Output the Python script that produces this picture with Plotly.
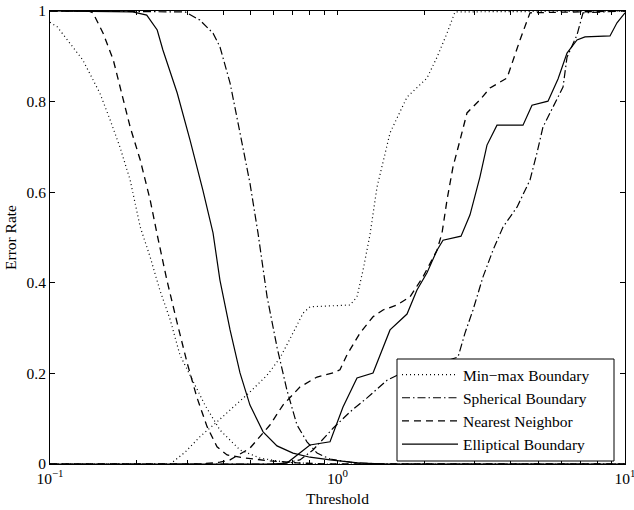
import plotly.graph_objects as go

# Threshold values (log axis) and error rates for each classifier boundary.
# Each method has a falling curve (false rejection) and a rising curve (false acceptance).

minmax_rej_x = [0.1, 0.106, 0.130, 0.149, 0.162, 0.175, 0.190, 0.206, 0.223, 0.241, 0.262,
                0.283, 0.307, 0.346, 0.390, 0.458, 0.538, 0.657, 0.869, 10.0]
minmax_rej_y = [0.975, 0.965, 0.892, 0.819, 0.759, 0.700, 0.627, 0.523, 0.457, 0.384, 0.318,
                0.241, 0.196, 0.130, 0.075, 0.031, 0.013, 0.004, 0.0, 0.0]
minmax_acc_x = [0.1, 0.262, 0.295, 0.332, 0.381, 0.433, 0.496, 0.569, 0.631, 0.700, 0.759,
                0.802, 0.942, 1.105, 1.169, 1.227, 1.297, 1.372, 1.523, 1.745, 2.048,
                2.219, 2.404, 2.563, 10.0]
minmax_acc_y = [0.0, 0.0, 0.026, 0.060, 0.093, 0.124, 0.159, 0.196, 0.234, 0.289, 0.333,
                0.347, 0.349, 0.351, 0.369, 0.428, 0.506, 0.611, 0.731, 0.810, 0.852,
                0.898, 0.951, 0.998, 1.0]

sph_rej_x = [0.1, 0.295, 0.332, 0.369, 0.390, 0.423, 0.458, 0.496, 0.529, 0.569, 0.616,
             0.667, 0.723, 0.783, 0.849, 0.942, 1.105, 1.406, 10.0]
sph_rej_y = [1.0, 0.998, 0.980, 0.951, 0.921, 0.841, 0.731, 0.620, 0.510, 0.369, 0.258,
             0.163, 0.086, 0.049, 0.024, 0.011, 0.004, 0.0, 0.0]
sph_acc_x = [0.1, 0.631, 0.740, 0.822, 0.965, 1.105, 1.267, 1.487, 1.650, 2.098, 2.625,
             2.776, 2.960, 3.207, 3.474, 3.764, 4.211, 4.673, 4.942, 5.185, 5.618,
             6.087, 6.285, 6.808, 7.144, 10.0]
sph_acc_y = [0.0, 0.0, 0.009, 0.031, 0.079, 0.115, 0.146, 0.185, 0.199, 0.216, 0.236,
             0.289, 0.340, 0.413, 0.472, 0.523, 0.567, 0.627, 0.687, 0.744, 0.788,
             0.832, 0.898, 0.947, 0.996, 1.0]

nn_rej_x = [0.1, 0.136, 0.141, 0.153, 0.166, 0.175, 0.190, 0.206, 0.223, 0.236, 0.255,
            0.277, 0.300, 0.324, 0.352, 0.381, 0.413, 0.477, 0.582, 0.740, 0.942, 10.0]
nn_rej_y = [1.0, 1.0, 0.996, 0.951, 0.892, 0.832, 0.744, 0.671, 0.583, 0.506, 0.406,
            0.311, 0.223, 0.148, 0.082, 0.038, 0.020, 0.013, 0.007, 0.002, 0.0, 0.0]
nn_acc_x = [0.1, 0.332, 0.390, 0.423, 0.496, 0.582, 0.646, 0.740, 0.849, 0.965, 1.020,
            1.079, 1.197, 1.329, 1.440, 1.611, 1.787, 1.983, 2.219, 2.310, 2.404,
            2.522, 2.668, 2.821, 3.130, 3.392, 3.887, 4.078, 4.313, 4.673, 10.0]
nn_acc_y = [0.0, 0.0, 0.004, 0.009, 0.035, 0.086, 0.130, 0.170, 0.192, 0.201, 0.208,
            0.241, 0.289, 0.325, 0.340, 0.351, 0.369, 0.413, 0.472, 0.510, 0.583,
            0.656, 0.715, 0.775, 0.804, 0.830, 0.852, 0.892, 0.936, 0.996, 1.0]

ell_rej_x = [0.1, 0.194, 0.217, 0.236, 0.247, 0.277, 0.307, 0.340, 0.369, 0.390, 0.423,
             0.458, 0.496, 0.551, 0.616, 0.700, 0.802, 0.942, 1.197, 1.523, 10.0]
ell_rej_y = [1.0, 0.998, 0.991, 0.958, 0.914, 0.819, 0.715, 0.605, 0.510, 0.406, 0.296,
             0.201, 0.130, 0.071, 0.040, 0.024, 0.015, 0.009, 0.002, 0.0, 0.0]
ell_acc_x = [0.1, 0.582, 0.667, 0.723, 0.802, 0.942, 1.045, 1.169, 1.329, 1.523, 1.745,
             1.890, 2.048, 2.219, 2.328, 2.689, 2.890, 3.130, 3.311, 3.587, 4.418,
             4.748, 5.397, 5.848, 6.285, 6.808, 7.259, 8.867, 9.379, 10.0]
ell_acc_y = [0.0, 0.0, 0.002, 0.020, 0.042, 0.049, 0.126, 0.190, 0.201, 0.296, 0.331,
             0.384, 0.422, 0.472, 0.494, 0.503, 0.550, 0.634, 0.704, 0.748, 0.748,
             0.792, 0.801, 0.850, 0.907, 0.936, 0.943, 0.945, 0.974, 0.996]

series_names = ["Min\u2212max Boundary", "Spherical Boundary", "Nearest Neighbor", "Elliptical Boundary"]

# decade labels on the log axis, with unlabeled ticks at the in-between multiples
x_ticks = [0.1, 0.2, 0.3, 0.4, 0.5, 0.6, 0.7, 0.8, 0.9,
           1, 2, 3, 4, 5, 6, 7, 8, 9, 10]
x_tick_text = ["10<sup>\u22121</sup>", "", "", "", "", "", "", "", "",
               "10<sup>0</sup>", "", "", "", "", "", "", "", "",
               "10<sup>1</sup>"]
y_ticks = [0, 0.2, 0.4, 0.6, 0.8, 1]
y_tick_text = ["0", "0.2", "0.4", "0.6", "0.8", "1"]

curves = [
    (minmax_rej_x, minmax_rej_y, minmax_acc_x, minmax_acc_y, "1px,3px", 1.2),
    (sph_rej_x, sph_rej_y, sph_acc_x, sph_acc_y, "8px,3px,1.5px,3px", 1.2),
    (nn_rej_x, nn_rej_y, nn_acc_x, nn_acc_y, "7px,5px", 1.3),
    (ell_rej_x, ell_rej_y, ell_acc_x, ell_acc_y, "solid", 1.2),
]

fig = go.Figure()
for name, (rx, ry, ax, ay, dash, w) in zip(series_names, curves):
    fig.add_trace(go.Scatter(
        x=list(rx) + [None] + list(ax),
        y=list(ry) + [None] + list(ay),
        mode="lines", name=name,
        line=dict(color="black", width=w, dash=dash),
        connectgaps=False,
    ))

font_family = "Liberation Serif, Times New Roman, serif"

# plot area in pixels: left 50, right 625, top 11, bottom 464
PL, PR, PT, PB = 50, 625, 11, 464
def px_x(p):
    return (p - PL) / (PR - PL)
def px_y(p):
    return (PB - p) / (PB - PT)

# opaque framed panel behind the legend entries
fig.add_shape(
    type="rect", xref="paper", yref="paper",
    x0=px_x(397), x1=px_x(614), y0=px_y(461), y1=px_y(359),
    line=dict(color="black", width=1), fillcolor="white", layer="above",
)

fig.update_layout(
    width=634, height=510,
    margin=dict(l=PL, r=634 - PR, t=PT, b=510 - PB),
    paper_bgcolor="white", plot_bgcolor="white",
    font=dict(family=font_family, size=15.5, color="black"),
    showlegend=True,
    legend=dict(
        x=px_x(397), y=px_y(358), xanchor="left", yanchor="top",
        bgcolor="rgba(0,0,0,0)", borderwidth=0,
        font=dict(family=font_family, size=15.5, color="black"),
        itemwidth=56, tracegroupgap=0,
    ),
)

fig.update_xaxes(
    type="log", range=[-1, 1],
    tickmode="array", tickvals=x_ticks, ticktext=x_tick_text,
    ticks="inside", ticklen=4, tickcolor="black",
    ticklabeloverflow="allow",
    showline=True, linecolor="black", linewidth=1, mirror="ticks",
    showgrid=False, zeroline=False,
    title=dict(text="Threshold", standoff=7, font=dict(size=15.5)),
    automargin=False,
)
fig.update_yaxes(
    range=[0, 1],
    tickmode="array", tickvals=y_ticks, ticktext=y_tick_text,
    ticks="inside", ticklen=5, tickcolor="black",
    showline=True, linecolor="black", linewidth=1, mirror="ticks",
    showgrid=False, zeroline=False,
    title=dict(text="Error Rate", standoff=6, font=dict(size=15.5)),
    automargin=False,
)

fig.write_html("out.html")
